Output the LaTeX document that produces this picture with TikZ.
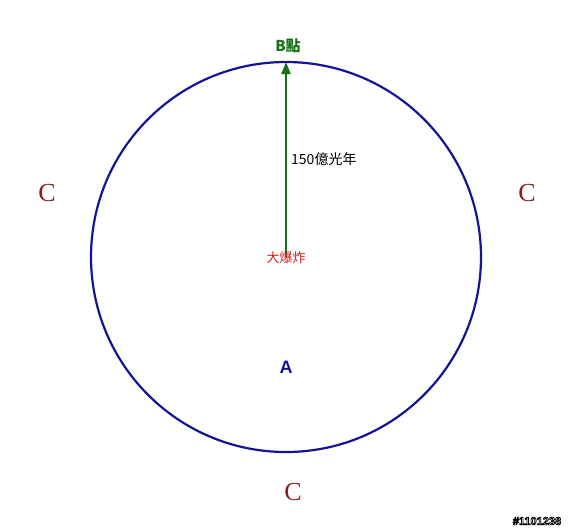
\documentclass[tikz,border=0pt]{standalone}
\usepackage{fontspec}
\setmainfont{Liberation Serif}
\setsansfont{Liberation Sans}
\newfontfamily\cjk{Noto Sans CJK TC}
\usepackage{tikz}
\usetikzlibrary{calc}
\usetikzlibrary{arrows.meta}

\definecolor{ringblue}{RGB}{20,20,150}
\definecolor{pathgreen}{RGB}{20,115,20}
\definecolor{cred}{RGB}{140,30,30}
\definecolor{bangred}{RGB}{205,30,30}

\begin{document}
\begin{tikzpicture}[x=1pt, y=-1pt,
        lblC/.style={text=cred, font=\fontsize{26}{26}\selectfont, inner sep=0pt},
        bangtxt/.style={text=bangred, font=\cjk\fontsize{13}{13}\selectfont, inner sep=0pt}]
        \def\cx{286}
        \def\cy{257}
        \def\r{195}

        \useasboundingbox (0,0) rectangle (572,531);

        % Circle
        \draw[ringblue, line width=2.2pt] (\cx,\cy) circle (\r);

        \coordinate (O) at (\cx,\cy);
        \coordinate (top) at (\cx,\cy-\r);

        \draw[-{Triangle[length=12pt, width=9pt]}, pathgreen, line width=2pt] (O) -- (top);

        \node[bangtxt] (bang) at (\cx,\cy+1) {大爆炸};
        \node[text=pathgreen, font=\cjk\bfseries\fontsize{15}{15}\selectfont, inner sep=0pt] (B) at (\cx+2,46) {B點};
        \node[anchor=west, font=\cjk\fontsize{14}{14}\selectfont, inner sep=0pt] (dist) at (\cx+5,159) {150億光年};
        \node[text=ringblue, font=\sffamily\bfseries\fontsize{18}{18}\selectfont, inner sep=0pt] (A) at (\cx,367) {A};

        % C all round
        \node[lblC] (Cl) at (47,193) {C};
        \node[lblC] (Cr) at (527,193) {C};
        \node[lblC] (Cb) at (293,492) {C};

        % mark
        \node[font=\sffamily\bfseries\fontsize{11}{11}\selectfont, inner sep=0pt] (tag) at (537,521)
            {\special{pdf:literal direct 2 Tr 0.7 w 0 G 1 g}\#1101238\special{pdf:literal direct 0 Tr}};
    \end{tikzpicture}
\end{document}
